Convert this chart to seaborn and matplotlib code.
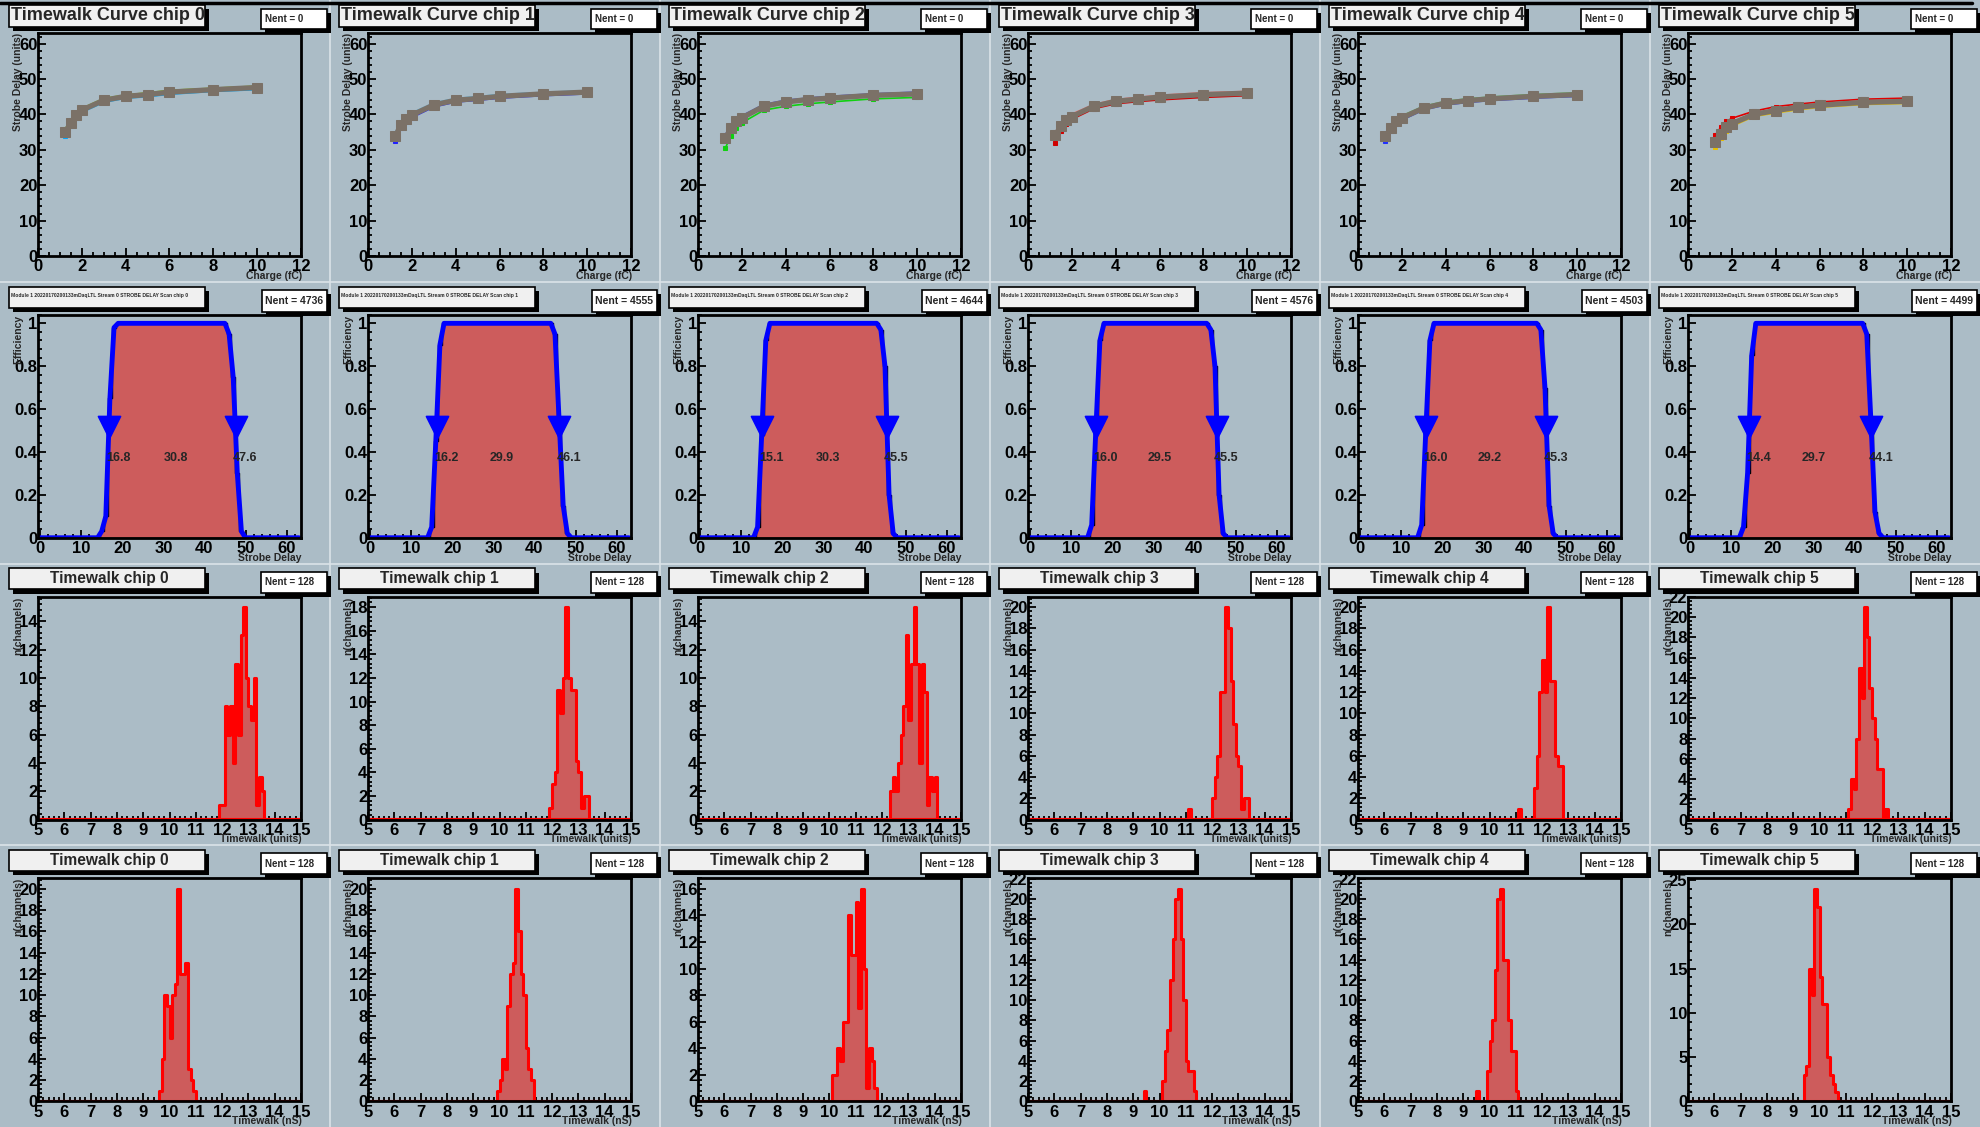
import numpy as np
import matplotlib
matplotlib.use("Agg")
import matplotlib.pyplot as plt
from matplotlib.patches import Rectangle
from matplotlib.lines import Line2D
from matplotlib.ticker import MultipleLocator, AutoMinorLocator, FormatStrFormatter
from matplotlib.transforms import Bbox, TransformedBbox
import seaborn as sns

#---------------- data ----------------
chips = [0, 1, 2, 3, 4, 5]

# row 1 : timewalk curves (strobe delay vs charge)
charge_fc = [1.25, 1.5, 1.75, 2, 3, 4, 5, 6, 8, 10]
delay_mean = [
    [35.1, 37.6, 39.8, 41.2, 44.0, 45.1, 45.6, 46.3, 47.0, 47.6],
    [33.8, 37.1, 38.6, 39.8, 42.7, 44.0, 44.5, 45.1, 45.8, 46.3],
    [33.3, 36.1, 38.0, 39.0, 42.3, 43.5, 44.2, 44.6, 45.4, 45.8],
    [34.2, 36.6, 38.5, 39.4, 42.3, 43.7, 44.3, 44.9, 45.6, 46.0],
    [33.8, 36.1, 38.0, 39.0, 41.8, 43.2, 43.9, 44.4, 45.1, 45.6],
    [32.1, 34.6, 36.4, 37.4, 40.0, 41.1, 42.0, 42.6, 43.4, 43.7],
]
delay_low = [
    [34.0, 36.6, 39.0, 40.6, 43.4, 44.6, 45.0, 45.7, 46.5, 47.0],
    [32.5, 36.2, 37.9, 39.1, 42.1, 43.5, 44.0, 44.6, 45.3, 45.8],
    [30.5, 34.0, 36.2, 37.6, 41.2, 42.3, 43.0, 43.5, 44.4, 44.8],
    [31.8, 35.2, 37.2, 38.6, 41.6, 43.0, 43.6, 44.1, 44.8, 45.3],
    [32.6, 35.2, 37.2, 38.4, 41.3, 42.7, 43.4, 43.9, 44.6, 45.1],
    [30.8, 33.4, 35.2, 36.6, 39.4, 40.4, 41.3, 42.0, 42.8, 43.1],
]
delay_high = [
    [36.0, 38.4, 40.4, 41.7, 44.5, 45.5, 46.1, 46.8, 47.4, 48.0],
    [34.8, 37.8, 39.3, 40.4, 43.2, 44.5, 45.0, 45.6, 46.2, 46.7],
    [34.2, 36.9, 38.7, 39.6, 42.8, 44.0, 44.6, 45.1, 45.8, 46.3],
    [35.0, 37.4, 39.2, 40.1, 42.8, 44.2, 44.8, 45.4, 46.1, 46.5],
    [34.6, 36.9, 38.7, 39.6, 42.3, 43.7, 44.4, 44.9, 45.6, 46.1],
    [34.2, 36.4, 38.0, 38.9, 40.9, 42.2, 42.9, 43.5, 44.3, 44.6],
]
low_colors = ["#00a8ff", "#2020ff", "#10d010", "#d00000", "#2030ff", "#e8c000"]
high_colors = ["#80d000", "#40c0ff", "#3040ff", "#ff7070", "#50c050", "#e00000"]

# row 2 : strobe delay scans
nent_scan = [4736, 4555, 4644, 4576, 4503, 4499]
thr_lo = [16.8, 16.2, 15.1, 16.0, 16.0, 14.4]
thr_hi = [47.6, 46.1, 45.5, 45.5, 45.3, 44.1]
thr_width = [30.8, 29.9, 30.3, 29.5, 29.2, 29.7]
rise_start = [15, 15, 14, 15, 15, 13]
rise_vals = [
    [0.03, 0.10, 0.65, 0.98],
    [0.05, 0.45, 0.90, 1.0],
    [0.05, 0.48, 0.92, 1.0],
    [0.06, 0.50, 0.92, 1.0],
    [0.06, 0.50, 0.92, 1.0],
    [0.05, 0.30, 0.85, 1.0],
]
fall_start = [46, 45, 44, 44, 44, 43]
fall_vals = [
    [0.95, 0.75, 0.30, 0.03],
    [0.95, 0.55, 0.15, 0.02],
    [0.97, 0.80, 0.20, 0.02],
    [0.97, 0.80, 0.20, 0.02],
    [0.97, 0.70, 0.15, 0.02],
    [0.95, 0.55, 0.12, 0.02],
]

# row 3 : timewalk in units (bins of 0.1, first bin low edge + counts)
tw_units_start = [11.9, 11.9, 12.3, 11.1, 11.1, 11.1]
tw_units_counts = [
    [1, 1, 8, 6, 8, 4, 11, 6, 13, 15, 10, 8, 7, 10, 1, 3, 2],
    [1, 3, 4, 11, 9, 12, 18, 12, 11, 11, 5, 4, 1, 2, 2],
    [2, 3, 2, 4, 6, 8, 13, 7, 11, 15, 11, 4, 11, 9, 1, 3, 2, 3],
    [1, 0, 0, 0, 0, 0, 0, 0, 0, 2, 4, 6, 12, 12, 20, 18, 13, 9, 6, 5, 1, 2, 2],
    [1, 0, 0, 0, 0, 0, 3, 6, 12, 15, 12, 20, 13, 13, 6, 5, 5],
    [1, 4, 3, 8, 15, 12, 21, 18, 13, 10, 8, 5, 5, 0, 1],
]
# row 4 : timewalk in nS
tw_ns_start = [9.6, 9.9, 10.1, 9.4, 9.5, 9.4]
tw_ns_counts = [
    [1, 4, 10, 9, 6, 10, 11, 20, 12, 12, 13, 3, 2, 1],
    [1, 2, 4, 3, 9, 12, 13, 20, 16, 12, 10, 5, 3, 2],
    [2, 2, 4, 3, 6, 6, 14, 11, 11, 15, 7, 16, 10, 1, 4, 3, 1],
    [1, 0, 0, 0, 0, 0, 0, 2, 5, 7, 12, 16, 20, 21, 16, 10, 4, 3, 3, 1],
    [1, 0, 0, 0, 3, 6, 8, 13, 20, 21, 14, 14, 8, 5, 5, 1],
    [3, 4, 15, 12, 24, 22, 14, 11, 11, 5, 3, 2, 1],
]
nent_tw = 128

#---------------- style ----------------
pad_col = "#abbcc6"
fill_red = "#cd5c5c"
curve_col = "#7b7167"

sns.set_style("ticks")
plt.rcParams["font.family"] = ["Liberation Sans", "DejaVu Sans"]
plt.rcParams["font.weight"] = "bold"

W, H = 1980, 1127
PW, PH = W / 6, H / 4

fig = plt.figure(figsize=(19.8, 11.27), dpi=100, facecolor=pad_col)


def fx(c, px):
    return (c * PW + px) / W


def fy(r, py):
    return 1 - (r * PH + py) / H


def add_box(c, r, x0, y0, x1, y1, face):
    # ROOT style pave with black shadow
    fig.patches.append(Rectangle((fx(c, x0 + 4), fy(r, y1 + 4)), (x1 - x0) / W, (y1 - y0) / H,
                                 transform=fig.transFigure, facecolor="black", edgecolor="none", zorder=5))
    rect = Rectangle((fx(c, x0), fy(r, y1)), (x1 - x0) / W, (y1 - y0) / H,
                     transform=fig.transFigure, facecolor=face, edgecolor="black", lw=1.2, zorder=6)
    fig.patches.append(rect)
    return Bbox.from_extents(fx(c, x0), fy(r, y1), fx(c, x1), fy(r, y0))


def style_axes(ax, xlim, ylim, xmaj, ymaj, xminor, yminor):
    ax.set_facecolor(pad_col)
    ax.set_xlim(*xlim)
    ax.set_ylim(*ylim)
    ax.xaxis.set_major_locator(MultipleLocator(xmaj))
    ax.yaxis.set_major_locator(MultipleLocator(ymaj))
    ax.xaxis.set_minor_locator(AutoMinorLocator(xminor))
    ax.yaxis.set_minor_locator(AutoMinorLocator(yminor))
    ax.xaxis.set_major_formatter(FormatStrFormatter("%g"))
    ax.yaxis.set_major_formatter(FormatStrFormatter("%g"))
    ax.tick_params(which="both", direction="in", top=False, right=False, width=1.3,
                   colors="black", labelsize=12)
    ax.tick_params(which="major", length=5.5)
    ax.tick_params(which="minor", length=2.8)
    ax.tick_params(axis="y", pad=0.5)
    ax.tick_params(axis="x", pad=2.5)
    for s in ax.spines.values():
        s.set_visible(True)
        s.set_linewidth(2)
        s.set_color("black")
    ax.set_xlabel("")
    ax.set_ylabel("")
    ax.grid(False)


def axis_titles(c, r, xt, yt):
    fig.text(fx(c, 302), fy(r, 276), xt, ha="right", va="center", fontsize=7.5, zorder=4)
    fig.text(fx(c, 18), fy(r, 33), yt, ha="center", va="top", rotation=90, fontsize=7.5, zorder=4)


def new_axes(c, r):
    return fig.add_axes([fx(c, 38), fy(r, 256), 263 / W, 223 / H])


edges = [round(5.0 + 0.1 * i, 2) for i in range(101)]
centers = [round(5.05 + 0.1 * i, 2) for i in range(100)]
scan_edges = [i - 0.5 for i in range(65)]
scan_bins = list(range(64))

for c in chips:
    #---------- row 1 : timewalk curve ----------
    r = 0
    ax = new_axes(c, r)
    sns.lineplot(x=charge_fc, y=delay_low[c], color=low_colors[c], lw=1.2, marker="s", ms=3.5,
                 mec=low_colors[c], sort=False, ax=ax)
    sns.lineplot(x=charge_fc, y=delay_high[c], color=high_colors[c], lw=1.2, marker="s", ms=3.5,
                 mec=high_colors[c], sort=False, ax=ax)
    sns.lineplot(x=charge_fc, y=delay_mean[c], color=curve_col, lw=3.8, marker="s", ms=6.5,
                 mec=curve_col, sort=False, ax=ax)
    style_axes(ax, (0, 12), (0, 63), 2, 10, 4, 5)
    axis_titles(c, r, "Charge (fC)", "Strobe Delay (units)")
    bb = add_box(c, r, 9, 5, 205, 27, "#f0f0f0")
    t = fig.text(fx(c, 11), fy(r, 16), f"Timewalk Curve chip {c}", ha="left", va="center",
                 fontsize=13.0, zorder=7)
    t.set_clip_box(TransformedBbox(bb, fig.transFigure))
    t.set_clip_on(True)
    add_box(c, r, 261, 9, 327, 29, "white")
    fig.text(fx(c, 265), fy(r, 19), "Nent = 0", ha="left", va="center", fontsize=7, zorder=7)

    #---------- row 2 : strobe delay scan ----------
    r = 1
    ax = new_axes(c, r)
    eff = np.zeros(64)
    eff[rise_start[c]:rise_start[c] + len(rise_vals[c])] = rise_vals[c]
    eff[rise_start[c] + len(rise_vals[c]):fall_start[c]] = 1.0
    eff[fall_start[c]:fall_start[c] + len(fall_vals[c])] = fall_vals[c]
    sns.histplot(x=scan_bins, weights=list(eff), bins=scan_edges, element="step", fill=True,
                 color=fill_red, facecolor=fill_red, edgecolor="black", linewidth=1.0, ax=ax)
    sns.lineplot(x=scan_bins, y=list(eff), color="#0000ff", lw=3.5, ax=ax)
    sns.scatterplot(x=[thr_lo[c], thr_hi[c]], y=[0.515, 0.515], marker="v", s=250,
                    color="#0000ff", edgecolor="#0000ff", legend=False, ax=ax, zorder=5)
    ax.text(thr_lo[c] + 2.3, 0.37, f"{thr_lo[c]:.1f}", ha="center", va="center", fontsize=9, zorder=6)
    ax.text((thr_lo[c] + thr_hi[c]) / 2 + 0.9, 0.37, f"{thr_width[c]:.1f}", ha="center", va="center",
            fontsize=9, zorder=6)
    ax.text(thr_hi[c] + 2.3, 0.37, f"{thr_hi[c]:.1f}", ha="center", va="center", fontsize=9, zorder=6)
    style_axes(ax, (-0.5, 63.5), (0, 1.04), 10, 0.2, 5, 5)
    axis_titles(c, r, "Strobe Delay", "Efficiency")
    add_box(c, r, 9, 5, 205, 26, "#f0f0f0")
    fig.text(fx(c, 11), fy(r, 14), f"Module 1 20220170200133mDaqLTL Stream 0 STROBE DELAY Scan chip {c}",
             ha="left", va="center", fontsize=3.6, zorder=7)
    add_box(c, r, 262, 8, 327, 30, "white")
    fig.text(fx(c, 265), fy(r, 19), f"Nent = {nent_scan[c]}", ha="left", va="center", fontsize=7.5, zorder=7)

    #---------- rows 3 and 4 : timewalk distributions ----------
    for r, starts, counts, xt in [(2, tw_units_start, tw_units_counts, "Timewalk (units)"),
                                  (3, tw_ns_start, tw_ns_counts, "Timewalk (nS)")]:
        ax = new_axes(c, r)
        full = np.zeros(100)
        i0 = int(round((starts[c] - 5.0) / 0.1))
        full[i0:i0 + len(counts[c])] = counts[c]
        sns.histplot(x=centers, weights=list(full), bins=edges, element="step", fill=True,
                     color=fill_red, facecolor=fill_red, edgecolor="#ff0000", linewidth=2.2, ax=ax)
        ymax = max(counts[c]) * 1.05
        style_axes(ax, (5, 15), (0, ymax), 1, 2 if ymax < 23 else 5, 5, 5)
        axis_titles(c, r, xt, "n(channels)")
        add_box(c, r, 9, 5, 205, 26, "#f0f0f0")
        fig.text(fx(c, 109), fy(r, 15.5), f"Timewalk chip {c}", ha="center", va="center",
                 fontsize=11.2, zorder=7)
        add_box(c, r, 261, 8, 327, 29, "white")
        fig.text(fx(c, 265), fy(r, 18.5), f"Nent = {nent_tw}", ha="left", va="center", fontsize=7, zorder=7)

# pad separators
for c in range(1, 6):
    fig.lines.append(Line2D([c * PW / W] * 2, [0, 1], transform=fig.transFigure, color="#dbe3e8", lw=1.2))
for r in range(1, 4):
    fig.lines.append(Line2D([0, 1], [1 - r * PH / H] * 2, transform=fig.transFigure, color="#dbe3e8", lw=1.2))
fig.lines.append(Line2D([0, 1972 / W], [1 - 3 / H] * 2, transform=fig.transFigure, color="black", lw=2.5))

fig.savefig("out.png", dpi=100, facecolor=pad_col)
